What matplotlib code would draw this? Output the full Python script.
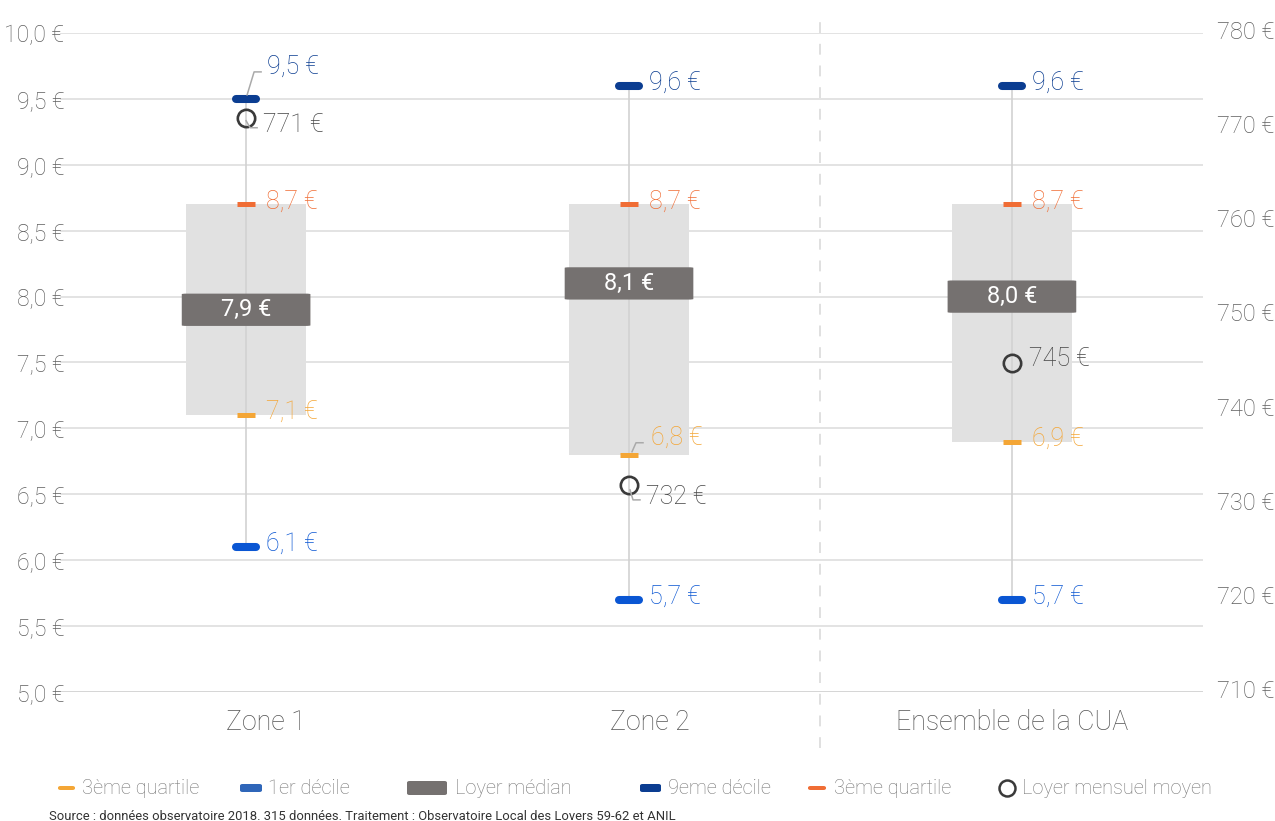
import matplotlib
matplotlib.use("Agg")
import matplotlib.pyplot as plt
from matplotlib.patches import FancyBboxPatch, Rectangle
from matplotlib.lines import Line2D
import matplotlib.transforms as mtransforms

# ---------------- data ----------------
categories = ["Zone 1", "Zone 2", "Ensemble de la CUA"]
decile1 = [6.1, 5.7, 5.7]
quartile1 = [7.1, 6.8, 6.9]
median = [7.9, 8.1, 8.0]
quartile3 = [8.7, 8.7, 8.7]
decile9 = [9.5, 9.6, 9.6]
mean_rent = [771, 732, 745]

left_ticks = [5.0, 5.5, 6.0, 6.5, 7.0, 7.5, 8.0, 8.5, 9.0, 9.5, 10.0]
right_ticks = [710, 720, 730, 740, 750, 760, 770, 780]

legend_labels = ["3ème quartile", "1er décile", "Loyer médian", "9eme décile",
                 "3ème quartile", "Loyer mensuel moyen"]

# ---------------- style ----------------
FONT = "Roboto"
C_D9 = "#0b3d91"
C_D1 = "#0a56d3"
C_Q3 = "#f06d35"
C_Q1 = "#f4a636"
C_MED = "#757170"
C_BOX = "#e1e1e1"
C_WHISK = "#d2d2d2"
C_GRID = "#e3e3e3"
C_MEAN = "#3a3a3a"
C_TICK = "#5e5e5e"

def fmt(v):
    return f"{v:.1f}".replace(".", ",") + " €"

plt.rcParams["font.family"] = [FONT, "DejaVu Sans"]

W, H = 1275, 821
fig = plt.figure(figsize=(W / 100, H / 100), dpi=100)
# axes: left 60px, right 1203px, top 33px, bottom 692px
ax = fig.add_axes([60 / W, 1 - 692 / H, (1203 - 60) / W, (692 - 33) / H])
ax.set_ylim(5.0, 10.0)
ax.set_xlim(-0.486, 2.499)
for s in ax.spines.values():
    s.set_visible(False)
ax.set_yticks(left_ticks)
ax.set_yticklabels([fmt(t) for t in left_ticks], fontsize=16.6, color=C_TICK,
                   fontweight="light")
ax.tick_params(axis="y", length=0, pad=-3)
for t in left_ticks:
    ax.axhline(t, color=C_GRID if t > 5.0 else "#d5d5d5", lw=1.4, zorder=0)

xs = list(range(len(categories)))
ax.set_xticks(xs)
ax.set_xticklabels(categories, fontsize=19.3, color="#555555", fontweight="light")
ax.tick_params(axis="x", length=0, pad=12)
label_dx = [20, 21, 0]
for lab, dx in zip(ax.get_xticklabels(), label_dx):
    lab.set_transform(lab.get_transform() +
                      mtransforms.ScaledTranslation(dx / 100, 0, fig.dpi_scale_trans))

# dashed separator
ax.plot([1.5, 1.5], [4.575, 10.137], color="#dddddd", lw=1.3, ls=(0, (6, 6)),
        clip_on=False, zorder=0)

# right axis
ax2 = ax.twinx()
ax2.set_ylim(710, 780)
for s in ax2.spines.values():
    s.set_visible(False)
ax2.set_yticks(right_ticks)
ax2.set_yticklabels([f"{t} €" for t in right_ticks], fontsize=17.0, color=C_TICK,
                    fontweight="light")
ax2.tick_params(axis="y", length=0, pad=10)
for lab in ax2.get_yticklabels():
    lab.set_transform(lab.get_transform() +
                      mtransforms.ScaledTranslation(0, 3 / 100, fig.dpi_scale_trans))

box_w = 0.315
for i in xs:
    # box
    ax.add_patch(Rectangle((i - box_w / 2, quartile1[i]), box_w,
                           quartile3[i] - quartile1[i], facecolor=C_BOX,
                           edgecolor="none", zorder=1))
    # whisker
    ax.plot([i, i], [decile1[i], decile9[i]], color=C_WHISK, lw=1.2, zorder=2)
    # deciles
    for v, c in ((decile9[i], C_D9), (decile1[i], C_D1)):
        ax.plot([i - 0.026, i + 0.026], [v, v], color=c, lw=5.8,
                solid_capstyle="round", zorder=4)
    for v, c in ((quartile3[i], C_Q3), (quartile1[i], C_Q1)):
        ax.plot([i - 0.023, i + 0.023], [v, v], color=c, lw=3.6,
                solid_capstyle="butt", zorder=4)
    # median label
    mw, mh = 0.336, 0.245
    ax.add_patch(FancyBboxPatch((i - mw / 2, median[i] - mh / 2), mw, mh,
                                boxstyle="round,pad=0,rounding_size=0.012",
                                mutation_aspect=0.35,
                                facecolor=C_MED, edgecolor="none", zorder=5))
    ax.text(i, median[i], fmt(median[i]), color="white", fontsize=17,
            ha="center", va="center", zorder=6)

# mean markers on the right axis
ax2.plot(xs, mean_rent, ls="none", marker="o", ms=12.5, mfc="none",
         mec=C_MEAN, mew=1.9, zorder=6)

def label(axis, x, y, text, color, dx=20, dy=3, leader=None):
    axis.annotate(text, (x, y), xytext=(dx, dy), textcoords="offset pixels",
                  fontsize=18, color=color, fontweight="light",
                  ha="left", va="center", zorder=7)
    if leader is not None:
        base = axis.transData.transform((x, y))
        xs_ = [base[0] + p[0] for p in leader]
        ys_ = [base[1] + p[1] for p in leader]
        fig.add_artist(Line2D(xs_, ys_, transform=None, color="#aaaaaa", lw=1.1,
                              zorder=3))

# leader offsets in pixels (x right, y up)
leaders = {
    (0, "d9"): [(1, 4), (8, 27), (15, 27)],
    (0, "mean"): [(0, -3), (4, -10), (11, -10)],
    (1, "q1"): [(3, 3), (7, 12), (14, 12)],
    (1, "mean"): [(1, -5), (4, -15), (11, -15)],
}
label_offsets = {
    (0, "d9"): (21, 32),
    (0, "mean"): (17, -7),
    (1, "q1"): (22, 17),
    (1, "mean"): (17, -12),
    (2, "mean"): (17, 4),
}

for i in xs:
    for key, v, c, axis, txt in (
        ("d9", decile9[i], C_D9, ax, fmt(decile9[i])),
        ("q3", quartile3[i], C_Q3, ax, fmt(quartile3[i])),
        ("q1", quartile1[i], C_Q1, ax, fmt(quartile1[i])),
        ("d1", decile1[i], C_D1, ax, fmt(decile1[i])),
        ("mean", mean_rent[i], "#444444", ax2, f"{mean_rent[i]} €"),
    ):
        dx, dy = label_offsets.get((i, key), (20, 3))
        label(axis, i, v, txt, c, dx=dx, dy=dy, leader=leaders.get((i, key)))

# legend (manual)
ly = 1 - 788 / H
items = [
    (58, 75, 4, C_Q1, "rect", 82),
    (240, 262, 8, "#2f66b9", "rect", 268),
    (407, 447, 14, C_MED, "rect", 455),
    (640, 661, 8, C_D9, "rect", 668),
    (808, 826, 4, C_Q3, "rect", 834),
    (1007, 1007, 0, C_MEAN, "circle", 1022),
]
for (x0, x1, h, c, kind, tx), lab in zip(items, legend_labels):
    if kind == "rect":
        fig.add_artist(FancyBboxPatch((x0 / W, ly - h / 2 / H), (x1 - x0) / W, h / H,
                                      boxstyle="round,pad=0,rounding_size=0.002",
                                      transform=fig.transFigure, facecolor=c,
                                      edgecolor="none"))
    else:
        fig.add_artist(Line2D([x0 / W], [ly], transform=fig.transFigure, marker="o",
                              ms=11.5, mfc="none", mec=c, mew=1.8))
    fig.text(tx / W, ly, lab, fontsize=14.4, color="#777777", fontweight="light",
             ha="left", va="center")

fig.text(49 / W, 1 - 816 / H,
         "Source : données observatoire 2018. 315 données. Traitement : Observatoire Local des Lovers 59-62 et ANIL",
         fontsize=9.4, color="#333333", ha="left", va="center")

fig.savefig("out.png", dpi=100)
